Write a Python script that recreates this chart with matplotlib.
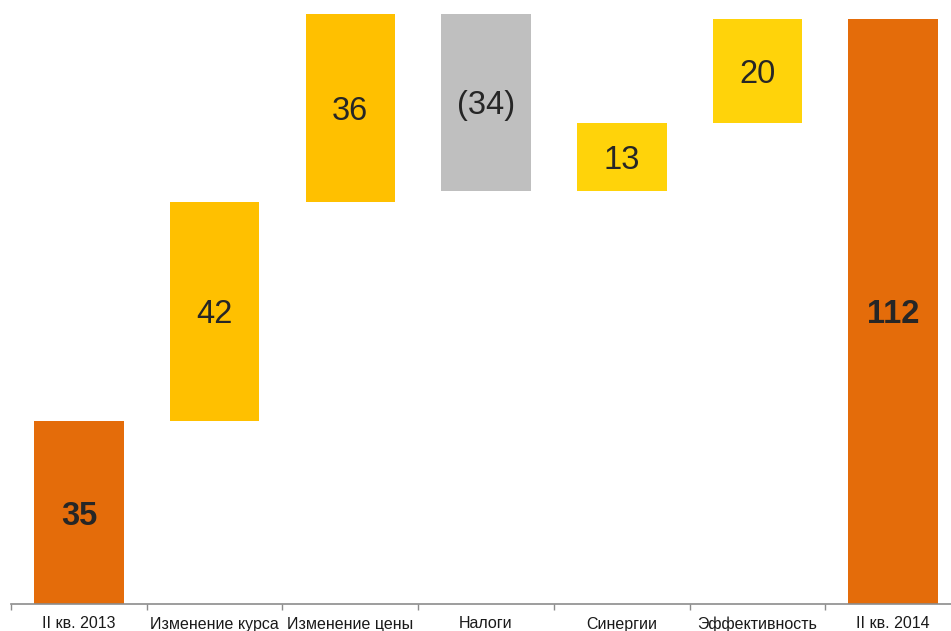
import matplotlib
matplotlib.use('Agg')
import matplotlib.pyplot as plt
import numpy as np

# Data
categories = ['II кв. 2013', 'Изменение курса', 'Изменение цены', 'Налоги',
              'Синергии', 'Эффективность', 'II кв. 2014']
values     = [35, 42, 36, -34, 13, 20, 112]
labels     = ['35', '42', '36', '(34)', '13', '20', '112']
kinds      = ['total', 'step', 'step', 'step', 'step', 'step', 'total']

colours = ['#E46C0A', '#FFC000', '#FFC000', '#BFBFBF', '#FFD30A', '#FFD30A', '#E46C0A']

plt.rcParams['font.family'] = ['Liberation Sans', 'DejaVu Sans']

# waterfall bottoms / heights
bottoms = []
heights = []
run = 0
for v, k in zip(values, kinds):
    if k == 'total':
        bottoms.append(0)
        heights.append(v)
        run = v
    else:
        if v >= 0:
            bottoms.append(run)
        else:
            bottoms.append(run + v)
        heights.append(abs(v))
        run += v

fig = plt.figure(figsize=(9.51, 6.31), dpi=100)
ax = fig.add_axes([11 / 951, 27 / 631, 940 / 951, 604 / 631])

x = np.arange(len(categories))
ax.bar(x, heights, bottom=bottoms, width=0.66, color=colours, zorder=2)

for i in range(len(categories)):
    bold = kinds[i] == 'total'
    ax.text(x[i], bottoms[i] + heights[i] / 2, labels[i], ha='center', va='center_baseline',
            fontsize=23.5, color='#262626', fontweight='bold' if bold else 'normal')

for s in ['top', 'right', 'left']:
    ax.spines[s].set_visible(False)
ax.spines['bottom'].set_color('#8C8C8C')
ax.spines['bottom'].set_linewidth(1.2)
ax.set_yticks([])

ax.set_xticks(x)
ax.set_xticklabels(categories, fontsize=11.5, color='#1a1a1a')
ax.tick_params(axis='x', length=0, pad=9)
ax.set_xticks(np.arange(-0.5, 7, 1), minor=True)
ax.tick_params(axis='x', which='minor', length=4, width=1, color='#8C8C8C', direction='out')

# limits after ticks so the minor ticks don't widen the view
ax.set_xlim(-0.5, 6.426)
ax.set_ylim(0, 604 / 5.225)

fig.savefig('out.png', dpi=100)
